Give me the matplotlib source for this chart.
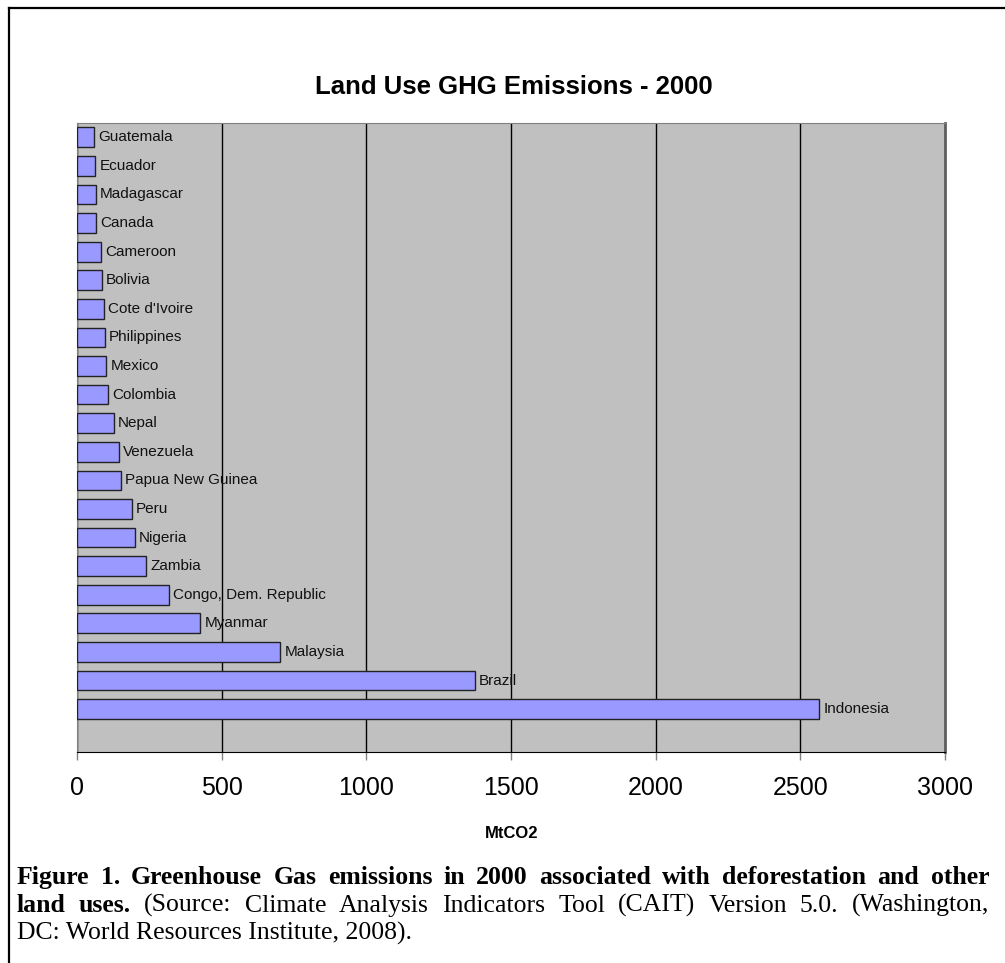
import matplotlib
matplotlib.use("Agg")
import matplotlib.pyplot as plt
from matplotlib.lines import Line2D

# data (MtCO2, year 2000)
countries = ['Indonesia', 'Brazil', 'Malaysia', 'Myanmar', 'Congo, Dem. Republic',
             'Zambia', 'Nigeria', 'Peru', 'Papua New Guinea', 'Venezuela', 'Nepal',
             'Colombia', 'Mexico', 'Philippines', "Cote d'Ivoire", 'Bolivia',
             'Cameroon', 'Canada', 'Madagascar', 'Ecuador', 'Guatemala']
emissions = [2565, 1374, 702, 426, 319, 240, 199, 190, 151, 146, 127,
             108, 101, 97, 92, 86, 82, 67, 65, 63, 59]
xticks = [0, 500, 1000, 1500, 2000, 2500, 3000]

W, H = 1005, 963
fig = plt.figure(figsize=(W / 100, H / 100), dpi=100)
fig.patch.set_facecolor('white')

# plot area
ax = fig.add_axes([77 / W, 1 - 752 / H, 868 / W, 629 / H])
ax.set_facecolor('#C0C0C0')

ypos = list(range(len(countries)))
ax.barh(ypos, emissions, height=0.69, color='#9999FF', edgecolor='#222222',
        linewidth=1.0, zorder=3)
for y, v, name in zip(ypos, emissions, countries):
    ax.annotate(name, (v, y), xytext=(3, 0), textcoords='offset points',
                va='center', ha='left', fontsize=11,
                family='Liberation Sans', color='#111111', zorder=4)

ax.set_xlim(0, 3000)
ax.set_ylim(-1.5, 20.5)
ax.set_xticks(xticks)
ax.set_yticks([])
ax.xaxis.grid(True, color='black', linewidth=1.0, zorder=1)
ax.tick_params(axis='x', length=6, width=1, color='#808080', pad=11,
               labelsize=18)
for lab in ax.get_xticklabels():
    lab.set_family('Liberation Sans')

ax.spines['left'].set_color('#808080')
ax.spines['top'].set_color('#808080')
ax.spines['right'].set_color('#606060')
ax.spines['right'].set_linewidth(2)
ax.spines['bottom'].set_color('black')

# titles
fig.text(0.511, 1 - 94 / H, 'Land Use GHG Emissions - 2000', ha='center',
         va='baseline', fontsize=18.5, fontweight='bold', family='Liberation Sans')
fig.text(0.509, 1 - 833 / H, 'MtCO2', ha='center', va='center',
         fontsize=12, fontweight='bold', family='Liberation Sans')

# caption under the chart, justified between x0 and x1 like the source page
x0, x1 = 17, 989
cap_size = 18.5
renderer = fig.canvas.get_renderer()


def justified(words, ybase):
    # words: list of (word, weight); spread them over x0..x1
    arts = []
    for w, wt in words:
        t = fig.text(0, 1 - ybase / H, w, ha='left', va='baseline',
                     family='Liberation Serif', fontsize=cap_size, fontweight=wt)
        arts.append(t)
    widths = [a.get_window_extent(renderer).width for a in arts]
    gap = (x1 - x0 - sum(widths)) / (len(arts) - 1)
    x = x0
    for a, wd in zip(arts, widths):
        a.set_x(x / W)
        x += wd + gap


line1 = 'Figure 1.  Greenhouse Gas emissions in 2000 associated with deforestation and other'
line2a = 'land uses.'
line2b = '(Source:  Climate Analysis Indicators Tool (CAIT) Version 5.0. (Washington,'
justified([(w, 'bold') for w in line1.split()], 884)
justified([(w, 'bold') for w in line2a.split()] + [(w, 'normal') for w in line2b.split()], 912)
fig.text(x0 / W, 1 - 940 / H, 'DC: World Resources Institute, 2008).', ha='left',
         va='baseline', family='Liberation Serif', fontsize=cap_size)

# outer frame (left and top edges visible)
fig.add_artist(Line2D([8.5 / W, 8.5 / W], [0, 1 - 8.5 / H], transform=fig.transFigure,
                      color='black', linewidth=1.6))
fig.add_artist(Line2D([8.5 / W, 1], [1 - 8.5 / H, 1 - 8.5 / H], transform=fig.transFigure,
                      color='black', linewidth=1.6))

fig.savefig('out.png', dpi=100)
